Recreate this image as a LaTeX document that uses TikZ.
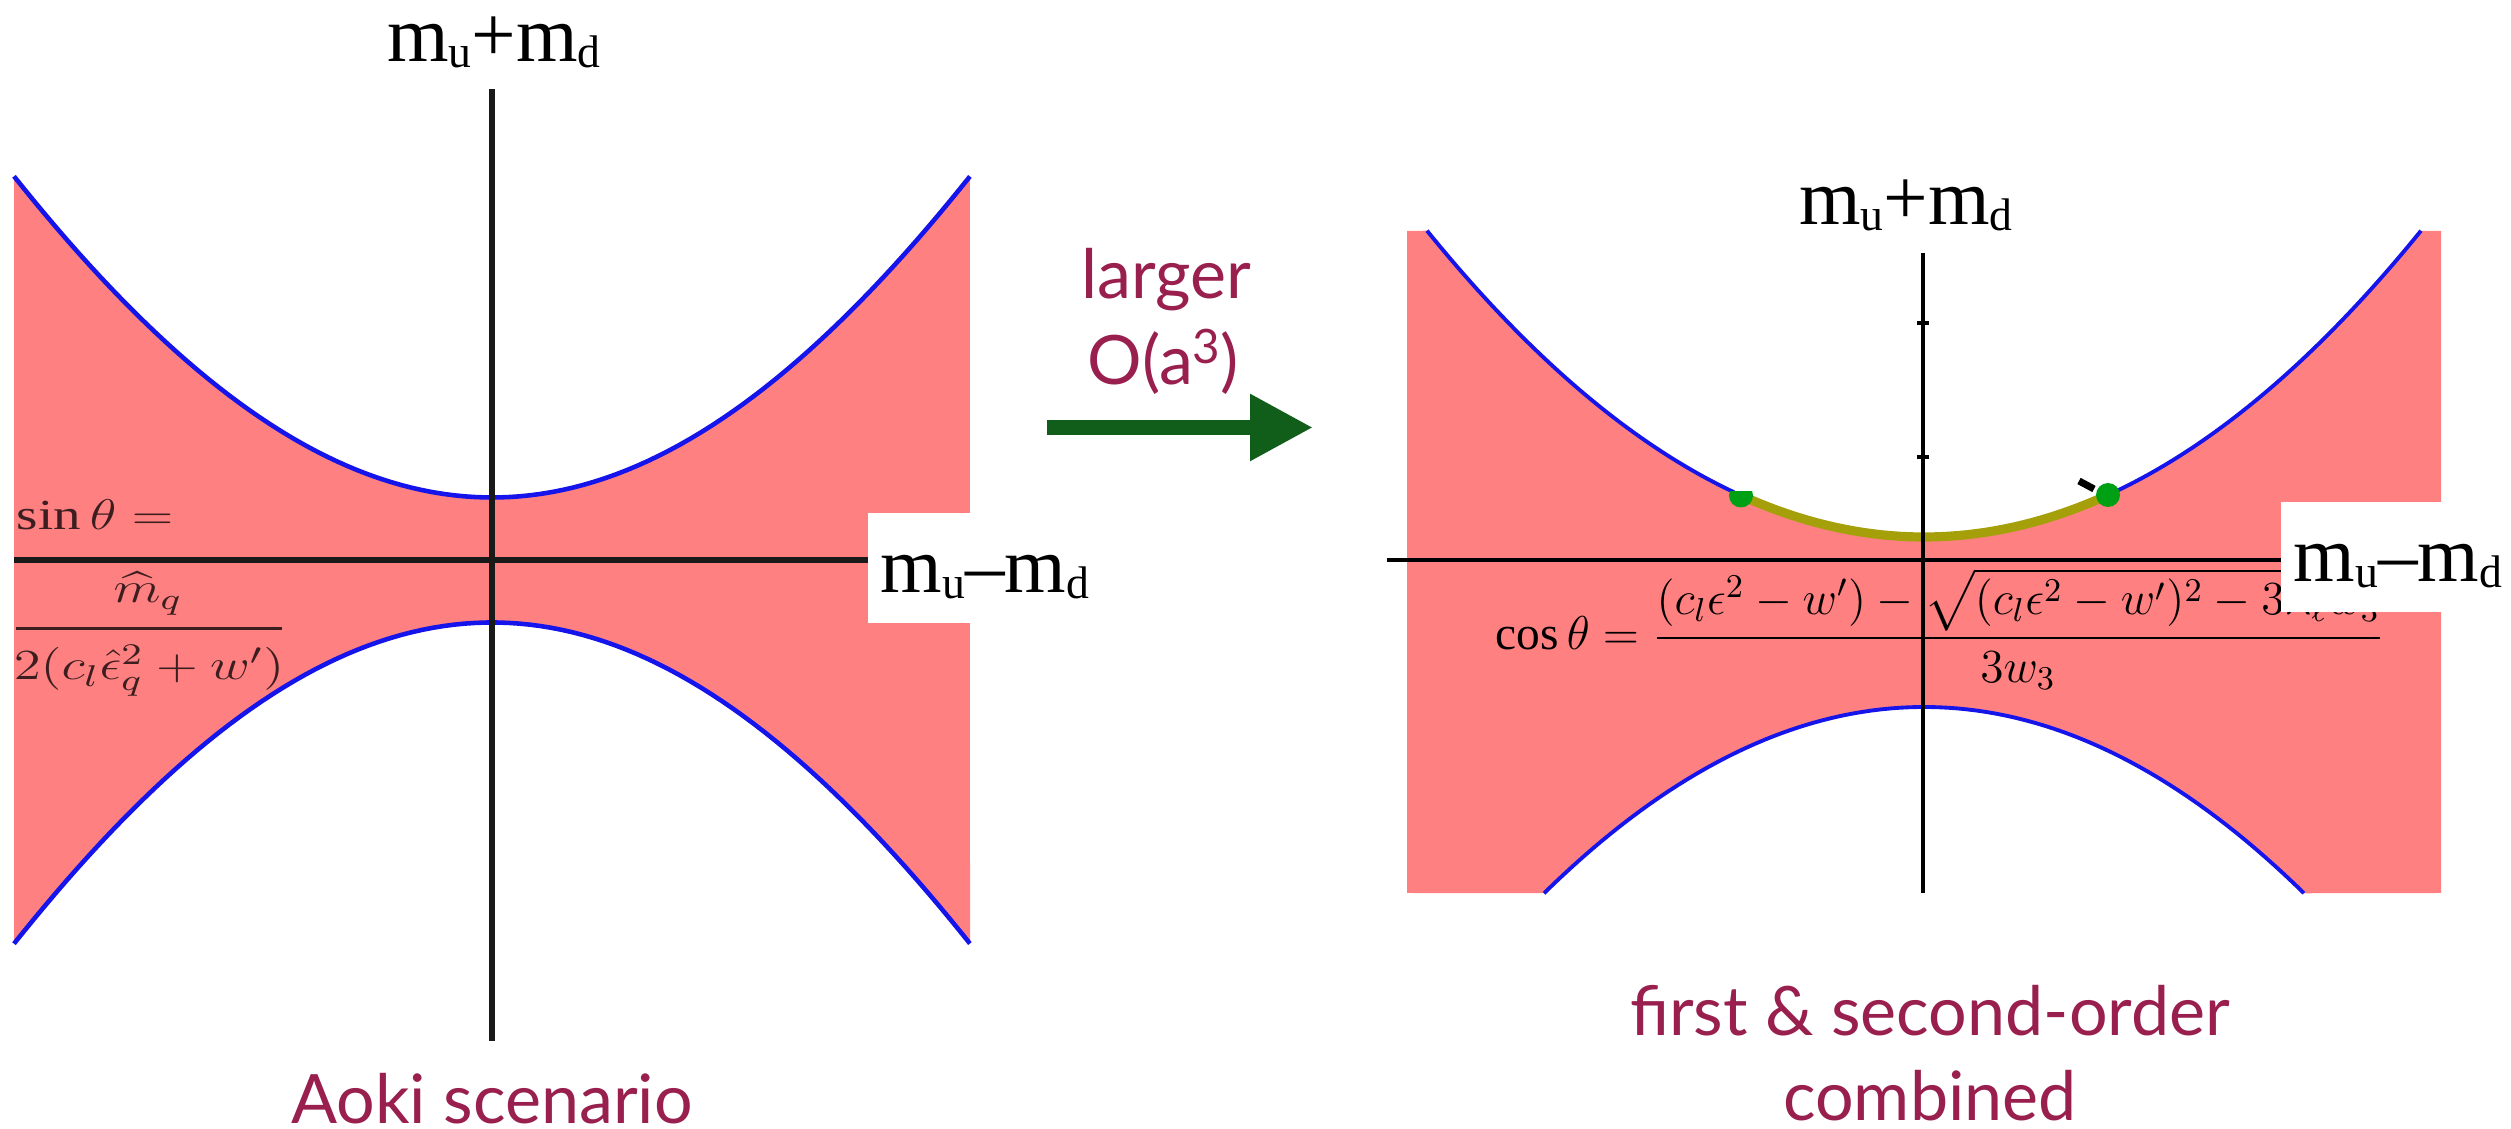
\RequirePackage{fix-cm}
\documentclass[tikz,border=0pt]{standalone}
\usepackage{amsmath}
\usepackage{fontspec}
\setmainfont{Liberation Serif}
\newfontfamily\capfont{Lato}
\usetikzlibrary{arrows.meta}
\definecolor{pinkc}{RGB}{255,128,128}
\definecolor{curveblue}{RGB}{20,20,235}
\definecolor{capred}{RGB}{153,32,78}
\definecolor{arrgreen}{RGB}{17,94,26}
\definecolor{olivec}{RGB}{165,160,10}
\definecolor{dotgreen}{RGB}{0,160,20}
\definecolor{eqdark}{RGB}{60,30,32}
\definecolor{axisc}{RGB}{25,25,25}
\newcommand{\lsub}[1]{\raisebox{-1.5pt}{\fontsize{13}{13}\selectfont #1}}
\newcommand{\wideq}[1]{\scalebox{1.28}[1]{#1}}
\begin{document}
\begin{tikzpicture}[x=0.1mm,y=-0.1mm,
  region/.style={fill=pinkc},
  bound/.style={draw=curveblue, line width=1.3pt},
  boundR/.style={draw=curveblue, line width=1.1pt},
  axisL/.style={draw=axisc, line width=1.6pt},
  axisR/.style={draw=black, line width=1.1pt},
  oliveband/.style={draw=olivec, line width=2.6pt},
  mlabel/.style={inner sep=0pt, font=\fontsize{22.5}{24}\selectfont},
  caption/.style={inner sep=0pt, text=capred, font=\capfont\fontsize{19.4}{22}\selectfont},
  eqL/.style={inner sep=0pt, text=eqdark, font=\fontsize{12.2}{15}\selectfont},
  eqR/.style={inner sep=0pt, text=black, font=\fontsize{13.5}{16}\selectfont},
  fracbar/.style={draw=eqdark, line width=0.85pt},
  bigarrow/.style={draw=arrgreen, line width=4.27pt, -{Triangle[length=6.3mm, width=6.3mm]}}
]
\useasboundingbox (0,0) rectangle (2511,1129);

% ---------------- left panel ----------------
\fill[region] plot[domain=-4.78:4.78, samples=90] ({492+100*\x},{497.5-250*(sqrt(68.0625+\x*\x)-8.25)})
  -- plot[domain=4.78:-4.78, samples=90] ({492+100*\x},{622.5+250*(sqrt(68.0625+\x*\x)-8.25)}) -- cycle;
\draw[bound] plot[domain=-4.78:4.78, samples=90] ({492+100*\x},{497.5-250*(sqrt(68.0625+\x*\x)-8.25)});
\draw[bound] plot[domain=-4.78:4.78, samples=90] ({492+100*\x},{622.5+250*(sqrt(68.0625+\x*\x)-8.25)});

\coordinate (LvT) at (492,89);
\coordinate (LvB) at (492,1041);
\coordinate (LhL) at (14,560);
\coordinate (LhR) at (880,560);
\draw[axisL] (LvT) -- (LvB);
\draw[axisL] (LhL) -- (LhR);

\node[eqL, anchor=base west] (sineq) at (16,530) {\wideq{$\sin\theta =$}};
\node[eqL, anchor=base] (sinnum) at (148,603) {\wideq{$\widehat{m}_q$}};
\coordinate (barL) at (16,629);
\coordinate (barR) at (282,629);
\draw[fracbar] (barL) -- (barR);
\node[eqL, anchor=base] (sinden) at (149,680) {\wideq{$2(c_l\hat{\epsilon}_q^2+w')$}};

\fill[white] (868,513) rectangle (1100,623);
\node[mlabel, anchor=base west] (Lhlab) at (880,593) {m\lsub{u}\textendash m\lsub{d}};
\node[mlabel, anchor=base] (Lvlab) at (494,62) {m\lsub{u}+m\lsub{d}};

\node[caption, anchor=base] (aoki) at (492,1124) {Aoki scenario};

% ---------------- arrow ----------------
\node[caption, anchor=base] (larger) at (1166,299) {larger};
\node[caption, anchor=base] (oa3) at (1163,385) {O(a\raisebox{0.62ex}{\fontsize{13.5}{14}\selectfont 3})};
\coordinate (arrS) at (1047,427.5);
\coordinate (arrE) at (1313,427.5);
\draw[bigarrow] (arrS) -- (arrE);

% ---------------- right panel ----------------
\fill[region] (1407,231) -- plot[domain=-4.97:4.97, samples=90] ({1924+100*\x},{537-12.4*\x*\x})
  -- (2441,231) -- (2441,893)
  -- plot[domain=3.8:-3.8, samples=80] ({1924+100*\x},{707+12.9*\x*\x}) -- (1407,893) -- cycle;
\draw[boundR] plot[domain=-4.97:-1.9, samples=50] ({1924+100*\x},{537-12.4*\x*\x});
\draw[boundR] plot[domain=1.84:4.97, samples=50] ({1924+100*\x},{537-12.4*\x*\x});
\draw[boundR] plot[domain=-3.8:3.8, samples=80] ({1924+100*\x},{707+12.9*\x*\x});
\draw[oliveband] plot[domain=-1.83:1.84, samples=40] ({1924+100*\x},{537-12.4*\x*\x});

\coordinate (RvT) at (1923,253);
\coordinate (RvB) at (1923,893);
\coordinate (RhL) at (1387,560);
\coordinate (RhR) at (2290,560);
\draw[axisR] (RvT) -- (RvB);
\draw[axisR] (RhL) -- (RhR);
\coordinate (tk1) at (1923,323);
\coordinate (tk2) at (1923,457);
\draw[black, line width=1.2pt] ([xshift=-0.6mm]tk1) -- ([xshift=0.6mm]tk1);
\draw[black, line width=1.2pt] ([xshift=-0.6mm]tk2) -- ([xshift=0.6mm]tk2);

\begin{scope}
  \clip (1700,{537-12.4*1.83*1.83-4}) rectangle (1790,540);
  \fill[dotgreen] ({1924-183},{537-12.4*1.83*1.83}) circle[radius=1.2mm];
\end{scope}
\fill[dotgreen] ({1924+184},{537-12.4*1.84*1.84}) circle[radius=1.2mm];
\draw[black, line width=2pt] (2079,481) -- (2094,489);

\node[eqR, anchor=base west] (coseq) at (1495,650) {$\displaystyle \cos\theta = \frac{(c_l\epsilon^2 - w') - \sqrt{(c_l\epsilon^2-w')^2 - 3\lambda_\ell w_3}}{3w_3}$};

\fill[white] (2281,502) rectangle (2511,612);
\node[mlabel, anchor=base west] (Rhlab) at (2293,582) {m\lsub{u}\textendash m\lsub{d}};
\node[mlabel, anchor=base] (Rvlab) at (1906,225) {m\lsub{u}+m\lsub{d}};

\node[caption, anchor=base] (cap1) at (1930,1036) {first \& second-order};
\node[caption, anchor=base] (cap2) at (1930,1121) {combined};
\end{tikzpicture}
\end{document}
